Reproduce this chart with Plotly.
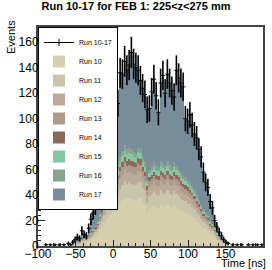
import numpy as np
import plotly.graph_objects as go

# Histogram binning: 100 bins of 3 ns from -100 to 200 ns
bin_low = -100.0
bin_width = 3.0
n_bins = 100

run_names = ["Run 10", "Run 11", "Run 12", "Run 13", "Run 14", "Run 15", "Run 16", "Run 17"]
run_colors = ["#d6cfae", "#c9c5ab", "#b9ab98", "#ad9a8c", "#8c6a5a", "#84c6a6", "#86a48e", "#788c9a"]

run10 = [0, 0, 0, 1, 0, 1, 0, 1, 0, 1, 0, 1, 0,
         1, 1, 2, 2, 2, 2, 3, 3, 4,
         4, 5, 6, 8, 10, 13, 15, 18, 21, 23,
         25, 27, 29, 31, 34, 36, 38, 37, 38, 37,
         36, 36, 38, 38, 34, 32, 26, 29, 31, 32,
         31, 30, 33, 32, 31, 33, 31, 30, 32, 31,
         29, 28, 27, 26, 25, 25, 23, 22, 20, 18,
         16, 14, 13, 12, 10, 9, 7, 5, 4, 3,
         2, 2, 2,
         0, 1, 0, 1, 0, 1, 0, 0, 1, 0, 1, 0, 1, 0, 1]
run11 = [0] * 16 + [1, 0, 1, 1, 1, 1,
         2, 2, 2, 3, 3, 4, 5, 6, 7, 8,
         8, 9, 10, 10, 11, 12, 13, 12, 12, 12,
         12, 12, 12, 12, 11, 11, 8, 10, 10, 11,
         10, 10, 11, 10, 10, 11, 10, 10, 11, 10,
         10, 9, 9, 9, 8, 8, 8, 7, 6, 6,
         5, 5, 4, 4, 3, 3, 2, 2, 1, 1,
         1, 0, 0] + [0] * 15
run12 = [0] * 17 + [1, 0, 1, 1, 1,
         1, 1, 2, 2, 2, 3, 3, 4, 4, 5,
         6, 6, 7, 7, 8, 8, 9, 8, 8, 8,
         8, 8, 9, 8, 8, 7, 6, 7, 7, 7,
         7, 7, 7, 7, 7, 7, 7, 7, 7, 7,
         7, 6, 6, 6, 6, 5, 5, 5, 4, 4,
         4, 3, 3, 3, 2, 2, 2, 1, 1, 1,
         1, 0, 0] + [0] * 15
run13 = [0] * 18 + [1, 0, 0, 1,
         1, 1, 1, 1, 2, 2, 3, 3, 3, 4,
         4, 5, 5, 5, 6, 6, 6, 6, 6, 6,
         6, 6, 6, 6, 6, 5, 4, 5, 5, 5,
         5, 5, 5, 5, 5, 5, 5, 5, 5, 5,
         5, 5, 4, 4, 4, 4, 4, 3, 3, 3,
         3, 2, 2, 2, 2, 1, 1, 1, 1, 1,
         0, 0, 0] + [0] * 15
run14 = [0] * 22 + [
         0, 0, 1, 1, 1, 1, 2, 2, 2, 2,
         3, 3, 3, 3, 3, 4, 4, 4, 4, 4,
         4, 3, 4, 4, 3, 3, 3, 3, 3, 3,
         3, 3, 3, 3, 3, 3, 3, 3, 3, 3,
         3, 3, 3, 3, 3, 2, 2, 2, 2, 2,
         1, 1, 1, 1, 1, 1, 1, 0, 0, 0,
         0, 0, 0] + [0] * 15
run15 = [0] * 20 + [1, 0,
         1, 1, 1, 1, 1, 2, 2, 2, 3, 3,
         3, 3, 3, 4, 4, 5, 5, 5, 5, 5,
         4, 4, 5, 5, 4, 4, 3, 3, 4, 4,
         4, 4, 4, 4, 4, 4, 4, 4, 4, 4,
         3, 3, 4, 3, 3, 3, 3, 3, 3, 2,
         2, 2, 2, 1, 1, 1, 1, 1, 1, 0,
         0, 0, 0] + [0] * 15
run16 = [0] * 22 + [
         0, 0, 0, 0, 1, 1, 1, 2, 2, 2,
         3, 3, 3, 4, 4, 4, 4, 4, 4, 4,
         4, 4, 4, 4, 4, 4, 2, 3, 3, 4,
         4, 3, 4, 4, 3, 4, 4, 3, 4, 3,
         3, 3, 3, 3, 3, 3, 2, 2, 2, 1,
         1, 2, 1, 1, 1, 0, 0, 0, 0, 0,
         0, 0, 0] + [0] * 15
run17 = [0] * 13 + [1, 0, 1, 2, 4, 2, 7, 3, 1,
         5, 11, 13, 14, 18, 26, 41, 41, 46, 39,
         50, 49, 50, 48, 66, 60, 66, 62, 65, 76,
         69, 67, 60, 53, 54, 53, 55, 48, 58, 65,
         54, 43, 61, 69, 57, 68, 64, 60, 51, 75,
         72, 71, 69, 46, 46, 53, 48, 44, 45, 40,
         38, 29, 24, 22, 15, 13, 6, 5, 3, 2,
         1, 1, 0] + [0] * 15

runs = [run10, run11, run12, run13, run14, run15, run16, run17]

centers = bin_low + bin_width * (np.arange(n_bins) + 0.5)
total = np.sum(np.array(runs, dtype=float), axis=0)
mask = total > 0

FONT = "Liberation Sans, Arial, Helvetica, sans-serif"

fig = go.Figure()

# legend-only entry for the summed data
fig.add_trace(go.Scatter(
    x=[None], y=[None], name="Run 10-17", mode="lines+markers",
    line=dict(color="black", width=1),
    marker=dict(symbol="line-ns-open", size=5, color="black",
                line=dict(width=1, color="black")),
))

for name, vals, col in zip(run_names, runs, run_colors):
    fig.add_trace(go.Bar(
        x=centers, y=vals, name=name, width=bin_width,
        marker=dict(color=col, line=dict(width=0)),
    ))

fig.add_trace(go.Scatter(
    x=centers[mask], y=total[mask], mode="markers", showlegend=False,
    marker=dict(symbol="line-ew-open", size=3, color="black",
                line=dict(width=1, color="black")),
    error_y=dict(type="data", array=np.sqrt(total[mask]), width=0,
                 thickness=1.6, color="black"),
))

fig.update_layout(
    width=272, height=270,
    margin=dict(l=38, r=7, t=27, b=24),
    paper_bgcolor="white", plot_bgcolor="white",
    barmode="stack", bargap=0,
    font=dict(family=FONT, size=12, color="black"),
    title=dict(text="<b>Run 10-17 for FEB 1: 225&lt;z&lt;275 mm</b>", x=0.5, xanchor="center",
               y=0.99, yanchor="top", font=dict(family=FONT, size=11, color="black")),
    showlegend=True,
    legend=dict(x=0, y=1, xanchor="left", yanchor="top", bgcolor="white",
                bordercolor="black", borderwidth=1, traceorder="normal",
                font=dict(family=FONT, size=7), tracegroupgap=0, itemwidth=30),
    xaxis=dict(range=[-100, 200], showline=True, linecolor="#444", linewidth=2,
               mirror=True, ticks="inside", ticklen=6, tickcolor="#222",
               dtick=50, tick0=0, showgrid=False, zeroline=False,
               minor=dict(dtick=10, ticks="inside", ticklen=3, tickcolor="#222"),
               tickfont=dict(size=12), ticklabelstandoff=-4),
    yaxis=dict(range=[0, 172], showline=True, linecolor="#444", linewidth=2,
               mirror=True, ticks="inside", ticklen=7, tickcolor="#222",
               dtick=20, tick0=0, showgrid=False, zeroline=False,
               minor=dict(dtick=4, ticks="inside", ticklen=3, tickcolor="#222"),
               tickfont=dict(size=12), ticklabelstandoff=-5),
    annotations=[
        dict(text="Events", xref="paper", yref="paper", x=-0.12, y=1.0,
             xanchor="center", yanchor="top", textangle=-90, showarrow=False,
             yshift=9, font=dict(family=FONT, size=11)),
        dict(text="Time [ns]", xref="paper", yref="paper", x=1.0, y=-0.077,
             xanchor="right", yanchor="middle", showarrow=False, xshift=5,
             font=dict(family=FONT, size=11)),
    ],
)

fig.write_html("out.html", config={"displayModeBar": False},
               post_script="document.body.style.margin='0';")
